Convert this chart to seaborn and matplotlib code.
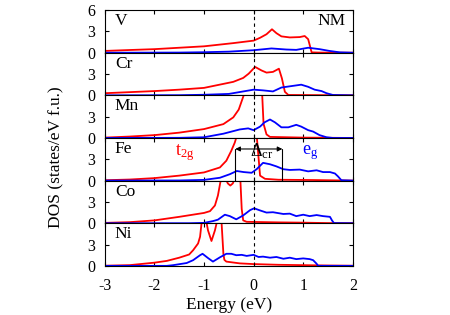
import numpy as np
import pandas as pd
import matplotlib
matplotlib.use('Agg')
import matplotlib.pyplot as plt
import seaborn as sns

# Panels, top to bottom
metals = ['V', 'Cr', 'Mn', 'Fe', 'Co', 'Ni']

# t2g (red) and eg (blue) DOS: energies (eV) and values
v_t2g_e = [-3.0, -2.5, -2.0, -1.5, -1.0, -0.41, 0.0, 0.13, 0.26, 0.37, 0.46, 0.56, 0.73, 0.93, 1.03, 1.1, 1.17, 1.3, 2.0]
v_t2g = [0.25, 0.38, 0.5, 0.7, 0.9, 1.35, 1.7, 2.1, 2.6, 3.3, 2.75, 2.3, 2.15, 2.2, 2.35, 1.9, 0.05, 0.02, 0.0]
v_eg_e = [-3.0, -1.5, -1.0, -0.5, 0.0, 0.36, 0.66, 0.86, 1.1, 1.33, 1.53, 1.74, 2.0]
v_eg = [0.0, 0.02, 0.07, 0.15, 0.35, 0.6, 0.45, 0.4, 0.7, 0.5, 0.25, 0.05, 0.0]

cr_t2g_e = [-3.0, -2.5, -2.0, -1.5, -1.0, -0.41, -0.21, -0.1, 0.03, 0.16, 0.26, 0.39, 0.51, 0.57, 0.63, 0.7, 2.0]
cr_t2g = [0.3, 0.45, 0.6, 0.8, 1.05, 1.9, 2.45, 3.05, 4.0, 3.5, 3.2, 3.3, 3.75, 2.4, 0.5, 0.05, 0.0]
cr_eg_e = [-3.0, -1.5, -1.0, -0.5, 0.0, 0.19, 0.39, 0.56, 0.76, 0.96, 1.1, 1.23, 1.37, 1.47, 1.6, 2.0]
cr_eg = [0.0, 0.02, 0.08, 0.2, 0.8, 0.7, 0.55, 1.1, 1.3, 1.5, 1.2, 0.8, 0.6, 0.3, 0.05, 0.0]

mn_t2g_e = [-3.0, -2.5, -2.0, -1.5, -1.0, -0.61, -0.41, -0.3, -0.2, -0.12, 0.1, 0.17, 0.2, 0.26, 0.33, 1.0, 2.0]
mn_t2g = [0.05, 0.2, 0.4, 0.75, 1.25, 1.95, 2.9, 4.0, 6.0, 7.0, 7.0, 6.5, 2.0, 0.5, 0.15, 0.05, 0.0]
mn_eg_e = [-3.0, -1.5, -1.0, -0.61, -0.28, -0.11, 0.0, 0.13, 0.22, 0.33, 0.43, 0.56, 0.7, 0.86, 0.96, 1.1, 1.2, 1.33, 1.47, 1.6, 2.0]
mn_eg = [0.0, 0.02, 0.1, 0.6, 1.2, 1.35, 1.1, 1.6, 2.2, 2.6, 2.2, 1.5, 1.5, 1.85, 1.6, 1.1, 0.9, 0.4, 0.1, 0.0, 0.0]

fe_t2g_e = [-3.0, -2.5, -2.0, -1.5, -1.0, -0.68, -0.55, -0.45, -0.38, -0.33, 0.0, 0.06, 0.13, 0.23, 0.5, 1.2, 2.0]
fe_t2g = [0.05, 0.15, 0.35, 0.7, 1.15, 1.85, 2.8, 4.2, 5.35, 6.5, 7.0, 6.5, 0.7, 0.25, 0.12, 0.08, 0.0]
fe_eg_e = [-3.0, -1.5, -1.0, -0.68, -0.48, -0.34, -0.2, -0.04, 0.06, 0.19, 0.33, 0.46, 0.6, 0.73, 0.93, 1.1, 1.27, 1.4, 1.54, 1.64, 1.7, 1.77, 2.0]
fe_eg = [0.0, 0.02, 0.1, 0.4, 0.9, 1.35, 1.2, 1.1, 1.6, 2.5, 2.3, 2.0, 1.6, 1.5, 1.55, 1.3, 1.45, 1.2, 1.2, 1.0, 0.6, 0.05, 0.0]

co_t2g_e = [-3.0, -2.5, -2.0, -1.5, -1.0, -0.88, -0.78, -0.72, -0.67, -0.62, -0.56, -0.52, -0.47, -0.42, -0.38, -0.32, -0.27, -0.24, -0.21, -0.14, 0.5, 1.0, 1.5, 2.0]
co_t2g = [0.05, 0.15, 0.4, 0.9, 1.45, 1.7, 2.5, 3.9, 5.8, 6.5, 6.2, 5.6, 5.3, 5.6, 6.3, 6.6, 6.5, 2.0, 0.4, 0.2, 0.12, 0.08, 0.02, 0.0]
co_eg_e = [-3.0, -1.3, -1.0, -0.82, -0.72, -0.58, -0.48, -0.35, -0.21, -0.07, 0.01, 0.13, 0.26, 0.39, 0.6, 0.73, 0.86, 1.0, 1.13, 1.27, 1.4, 1.54, 1.58, 1.62, 2.0]
co_eg = [0.0, 0.0, 0.05, 0.3, 0.5, 1.2, 1.0, 0.55, 1.1, 1.85, 2.1, 1.8, 1.5, 1.55, 1.3, 1.35, 1.0, 1.2, 1.0, 1.15, 1.0, 0.9, 0.4, 0.02, 0.0]

ni_t2g_e = [-3.0, -2.5, -2.0, -1.75, -1.5, -1.3, -1.22, -1.12, -1.08, -1.05, -0.96, -0.92, -0.85, -0.78, -0.73, -0.65, -0.61, -0.59, -0.55, -0.28, 0.0, 0.5, 1.0, 1.5, 2.0]
ni_t2g = [0.02, 0.1, 0.45, 0.7, 1.15, 1.6, 2.2, 3.15, 4.1, 6.0, 6.5, 5.0, 3.5, 5.0, 6.5, 6.5, 1.75, 0.85, 0.6, 0.35, 0.25, 0.15, 0.1, 0.05, 0.02]
ni_eg_e = [-3.0, -1.75, -1.62, -1.35, -1.22, -1.08, -1.03, -0.92, -0.82, -0.68, -0.55, -0.45, -0.35, -0.24, -0.14, 0.0, 0.1, 0.19, 0.33, 0.46, 0.6, 0.73, 0.86, 1.0, 1.13, 1.2, 1.27, 1.3, 2.0]
ni_eg = [0.0, 0.0, 0.1, 0.4, 0.8, 1.5, 1.7, 1.1, 0.6, 1.2, 1.7, 1.7, 1.5, 1.55, 1.4, 1.55, 1.25, 1.3, 1.15, 1.25, 1.0, 1.15, 0.95, 1.05, 0.95, 0.8, 0.3, 0.0, 0.0]

t2g_data = [(v_t2g_e, v_t2g), (cr_t2g_e, cr_t2g), (mn_t2g_e, mn_t2g),
            (fe_t2g_e, fe_t2g), (co_t2g_e, co_t2g), (ni_t2g_e, ni_t2g)]
eg_data = [(v_eg_e, v_eg), (cr_eg_e, cr_eg), (mn_eg_e, mn_eg),
           (fe_eg_e, fe_eg), (co_eg_e, co_eg), (ni_eg_e, ni_eg)]

# crystal field splitting marker in the Fe panel
delta_cr = [-0.37, 0.58]
delta_y = 4.45

sns.set_style('ticks')
plt.rcParams['font.family'] = ['Liberation Serif', 'DejaVu Serif']
plt.rcParams['mathtext.fontset'] = 'custom'
plt.rcParams['mathtext.rm'] = 'Liberation Serif'
plt.rcParams['mathtext.it'] = 'Liberation Serif'
plt.rcParams['axes.unicode_minus'] = False
plt.rcParams['font.size'] = 12.5
plt.rcParams['text.color'] = 'black'
plt.rcParams['xtick.color'] = 'black'
plt.rcParams['ytick.color'] = 'black'
plt.rcParams['axes.labelcolor'] = 'black'

fig, axes = plt.subplots(6, 1, figsize=(4.5, 3.15), dpi=100, sharex=True)
fig.subplots_adjust(left=0.233, right=0.784, bottom=0.156, top=0.968, hspace=0)

for i, ax in enumerate(axes):
    e, d = t2g_data[i]
    sns.lineplot(x=e, y=d, ax=ax, color='#ff0000', lw=1.3, sort=False)
    e, d = eg_data[i]
    sns.lineplot(x=e, y=d, ax=ax, color='#0000ff', lw=1.3, sort=False)
    ax.axvline(0, color='black', ls=(0, (3, 3)), lw=0.8)
    ax.set_xlim(-3, 2)
    ax.set_ylim(0, 6)
    if i == 0:
        ax.set_yticks([0, 3, 6])
    else:
        ax.set_yticks([0, 3])
    ax.set_xticks([-3, -2, -1, 0, 1, 2])
    ax.tick_params(axis='y', direction='in', length=3, right=True, labelsize=11.5, pad=7)
    ax.tick_params(axis='x', direction='in', length=3, top=True, labelsize=11.5, pad=9)
    for s in ax.spines.values():
        s.set_linewidth(0.8)
        s.set_color('black')
    ax.text(0.04, 0.93, metals[i], transform=ax.transAxes, ha='left', va='top', fontsize=12.5)

axes[0].text(0.97, 0.93, 'NM', transform=axes[0].transAxes, ha='right', va='top', fontsize=12.5)

fe = axes[3]
fe.text(-1.38, 3.9, r'$\mathregular{t_{2g}}$', color='#ff0000', ha='center', va='center', fontsize=13)
fe.text(1.13, 4.0, r'$\mathregular{e_{g}}$', color='#0000ff', ha='center', va='center', fontsize=13)
fe.annotate('', xy=(delta_cr[0], delta_y), xytext=(delta_cr[1], delta_y),
            arrowprops=dict(arrowstyle='<|-|>', color='black', lw=0.8, mutation_scale=7, shrinkA=0, shrinkB=0))
fe.plot([delta_cr[0], delta_cr[0]], [0, delta_y], color='black', lw=0.8)
fe.plot([delta_cr[1], delta_cr[1]], [0, delta_y], color='black', lw=0.8)
fe.text(0.17, 4.15, r'$\mathregular{\Delta_{cr}}$', color='black', ha='center', va='center', fontsize=13)

axes[-1].set_xlabel('Energy (eV)', fontsize=12.5, labelpad=2)
fig.text(0.125, 0.5, 'DOS (states/eV f.u.)', rotation=90, ha='center', va='center', fontsize=12.5)

plt.savefig('out.png', dpi=100)
